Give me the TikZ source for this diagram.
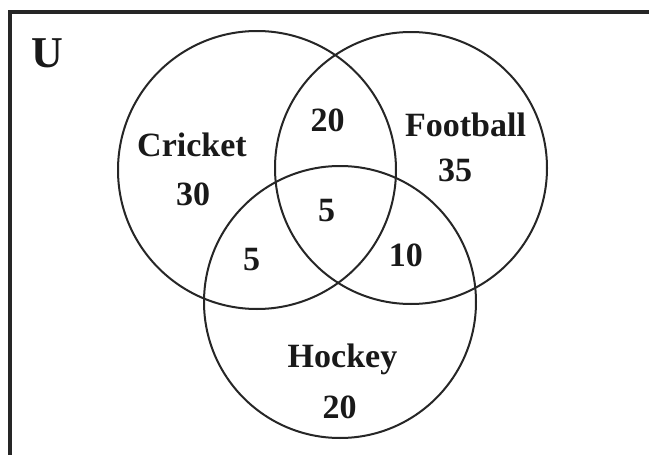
\documentclass[tikz,border=0pt]{standalone}
\usepackage{fontspec}
\setmainfont{Liberation Serif}
\begin{document}
\begin{tikzpicture}[x=1pt,y=-1pt,
  setc/.style={draw=black!85,line width=2pt},
  lbl/.style={font=\fontsize{34}{40}\selectfont\bfseries,text=black!90,inner sep=0pt,anchor=base},
  ubox/.style={draw=black!85,line width=4.5pt}]
\useasboundingbox (0,0) rectangle (649,455);
\clip (0,0) rectangle (649,455);
\fill[white] (0,0) rectangle (649,455);
\draw[ubox] (10,12) rectangle (660,470);
\node[setc,circle,minimum size=278pt,inner sep=0pt] (cricket) at (257,170) {};
\node[setc,circle,minimum size=272pt,inner sep=0pt] (football) at (411,168) {};
\node[setc,circle,minimum size=272pt,inner sep=0pt] (hockey) at (340,302) {};
\node[lbl,font=\fontsize{44}{50}\selectfont\bfseries] (u) at (47,67) {U};
\node[lbl] (tc) at (192,156) {Cricket};
\node[lbl] (nc) at (193,205) {30};
\node[lbl] (ncf) at (327.5,131.7) {20};
\node[lbl] (tf) at (465.5,136.7) {Football};
\node[lbl] (nf) at (455,181.7) {35};
\node[lbl] (nall) at (326.7,221.7) {5};
\node[lbl] (nch) at (251.7,270) {5};
\node[lbl] (nfh) at (405.8,266.7) {10};
\node[lbl] (th) at (342.5,367) {Hockey};
\node[lbl] (nh) at (339.5,418) {20};
\end{tikzpicture}
\end{document}
